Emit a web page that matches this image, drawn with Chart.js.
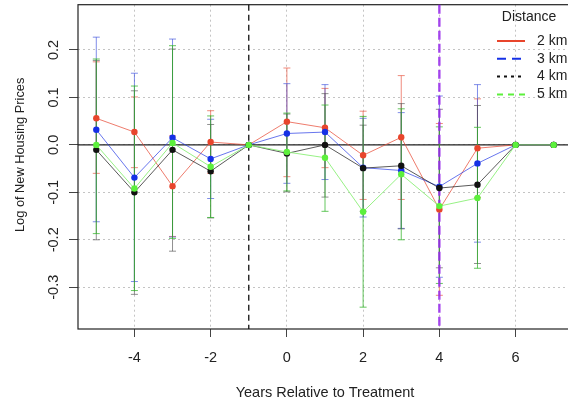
<!DOCTYPE html>
<html>
<head>
<meta charset="utf-8">
<script src="https://cdn.jsdelivr.net/npm/chart.js@4.4.1/dist/chart.umd.min.js"></script>
<style>
  html, body { margin: 0; padding: 0; overflow: hidden; background: #fff; width: 568px; height: 406px; }
  #wrap { width: 576px; height: 406px; }
</style>
</head>
<body>
<div id="wrap"><canvas id="c" width="576" height="406"></canvas></div>
<script>
// Event-study estimates by distance band, with confidence bounds
const years = [-5, -4, -3, -2, -1, 0, 1, 2, 3, 4, 5, 6, 7];
const seriesNames = ['2 km', '3 km', '4 km', '5 km'];

const est2km = [0.056, 0.027, -0.087, 0.006, 0, 0.049, 0.036, -0.022, 0.016, -0.136, -0.007, 0, 0];
const hi2km  = [0.175, 0.101, 0.019, 0.072, 0, 0.162, 0.119, 0.071, 0.146, 0.045, 0.097, 0, 0];
const lo2km  = [-0.060, -0.048, -0.193, -0.060, 0, -0.067, -0.048, -0.115, -0.115, -0.317, -0.111, 0, 0];

const est3km = [0.032, -0.069, 0.015, -0.0295, 0, 0.024, 0.027, -0.048, -0.054, -0.088, -0.039, 0, 0];
const hi3km  = [0.227, 0.151, 0.223, 0.054, 0, 0.129, 0.127, 0.056, 0.068, 0.103, 0.127, 0, 0];
const lo3km  = [-0.162, -0.288, -0.194, -0.113, 0, -0.081, -0.073, -0.152, -0.176, -0.279, -0.205, 0, 0];

const est4km = [-0.0105, -0.100, -0.0105, -0.0555, 0, -0.018, 0, -0.049, -0.044, -0.091, -0.084, 0, 0];
const hi4km  = [0.178, 0.114, 0.202, 0.043, 0, 0.065, 0.108, 0.0415, 0.087, 0.075, 0.083, 0, 0];
const lo4km  = [-0.200, -0.315, -0.224, -0.154, 0, -0.099, -0.110, -0.140, -0.177, -0.259, -0.250, 0, 0];

const est5km = [0.0, -0.092, 0.004, -0.046, 0, -0.015, -0.027, -0.141, -0.062, -0.129, -0.112, 0, 0];
const hi5km  = [0.181, 0.124, 0.209, 0.061, 0, 0.067, 0.084, 0.060, 0.076, 0.038, 0.037, 0, 0];
const lo5km  = [-0.187, -0.307, -0.197, -0.153, 0, -0.097, -0.140, -0.342, -0.200, -0.292, -0.260, 0, 0];

const xTickValues = [-4, -2, 0, 2, 4, 6];
const yTickValues = [-0.3, -0.2, -0.1, 0.0, 0.1, 0.2];
const treatmentYear = -1;
const markerYear = 4;

// Styling per series
const pointColors = ['#e8452c', '#1530e6', '#111111', '#5cf03c'];
const lineColors  = ['rgba(232,80,60,0.75)', 'rgba(40,60,230,0.7)', 'rgba(20,20,20,0.7)', 'rgba(140,240,120,0.9)'];
const barColors   = ['rgba(232,90,70,0.7)', 'rgba(60,80,220,0.65)', 'rgba(70,70,70,0.6)', 'rgba(50,180,40,0.75)'];
const legendDash  = [[], [9, 6], [3, 4], [6, 5]];

const estimates = [est2km, est3km, est4km, est5km];
const uppers = [hi2km, hi3km, hi4km, hi5km];
const lowers = [lo2km, lo3km, lo4km, lo5km];

const FONT = "'Liberation Sans', Arial, Helvetica, sans-serif";

const datasets = seriesNames.map((name, s) => ({
  label: name,
  data: years.map((x, i) => ({ x: x, y: estimates[s][i] })),
  borderColor: lineColors[s],
  backgroundColor: pointColors[s],
  pointBackgroundColor: pointColors[s],
  pointBorderWidth: 0,
  pointRadius: 3.2,
  borderWidth: 1,
  tension: 0,
  fill: false,
  order: seriesNames.length - s
}));

const decorations = {
  id: 'decorations',
  beforeDatasetsDraw(chart) {
    const { ctx, chartArea: a, scales: { x, y } } = chart;
    ctx.save();
    // frame
    ctx.strokeStyle = '#222';
    ctx.lineWidth = 1.2;
    ctx.setLineDash([]);
    ctx.strokeRect(a.left, a.top, a.right - a.left, a.bottom - a.top);

    // zero reference line
    const y0 = y.getPixelForValue(0);
    ctx.strokeStyle = '#222';
    ctx.lineWidth = 1.3;
    ctx.beginPath(); ctx.moveTo(a.left, y0); ctx.lineTo(a.right, y0); ctx.stroke();

    // confidence intervals
    ctx.lineWidth = 1;
    for (let s = 0; s < seriesNames.length; s++) {
      ctx.strokeStyle = barColors[s];
      for (let i = 0; i < years.length; i++) {
        if (uppers[s][i] === lowers[s][i]) continue;
        const px = x.getPixelForValue(years[i]);
        const pt = y.getPixelForValue(uppers[s][i]);
        const pb = y.getPixelForValue(lowers[s][i]);
        ctx.beginPath();
        ctx.moveTo(px, pt); ctx.lineTo(px, pb);
        ctx.moveTo(px - 3.5, pt); ctx.lineTo(px + 3.5, pt);
        ctx.moveTo(px - 3.5, pb); ctx.lineTo(px + 3.5, pb);
        ctx.stroke();
      }
    }

    // treatment year
    const xt = x.getPixelForValue(treatmentYear);
    ctx.strokeStyle = '#111';
    ctx.lineWidth = 1.3;
    ctx.setLineDash([6, 4]);
    ctx.beginPath(); ctx.moveTo(xt, a.top); ctx.lineTo(xt, a.bottom); ctx.stroke();

    // later marker
    const xm = x.getPixelForValue(markerYear);
    ctx.strokeStyle = 'rgba(150,40,235,0.85)';
    ctx.lineWidth = 2.4;
    ctx.setLineDash([9, 4]);
    ctx.beginPath(); ctx.moveTo(xm, a.top); ctx.lineTo(xm, a.bottom); ctx.stroke();
    ctx.restore();
  },
  afterDraw(chart) {
    const { ctx, chartArea: a, scales: { y } } = chart;
    ctx.save();
    // y tick labels, rotated
    ctx.fillStyle = '#222';
    ctx.font = '14.5px ' + FONT;
    ctx.textAlign = 'center';
    ctx.textBaseline = 'middle';
    const lx = y.left + 54;
    yTickValues.forEach(v => {
      const py = y.getPixelForValue(v);
      ctx.save();
      ctx.translate(lx, py);
      ctx.rotate(-Math.PI / 2);
      ctx.fillText(v.toFixed(1), 0, 0);
      ctx.restore();
    });
    // y axis title
    ctx.save();
    ctx.translate(y.left + 20, (a.top + a.bottom) / 2 - 12);
    ctx.rotate(-Math.PI / 2);
    ctx.font = '12.8px ' + FONT;
    ctx.fillText('Log of New Housing Prices', 0, 0);
    ctx.restore();

    // legend
    ctx.font = '14px ' + FONT;
    ctx.textAlign = 'center';
    ctx.fillText('Distance', 529, 17);
    ctx.textAlign = 'left';
    seriesNames.forEach((name, s) => {
      const ry = 41 + s * 17.8;
      ctx.strokeStyle = pointColors[s];
      ctx.lineWidth = 2;
      ctx.setLineDash(legendDash[s]);
      ctx.beginPath(); ctx.moveTo(497, ry); ctx.lineTo(525, ry); ctx.stroke();
      ctx.setLineDash([]);
      ctx.fillStyle = '#222';
      ctx.fillText(name, 537, ry);
    });
    ctx.restore();
  }
};

new Chart(document.getElementById('c'), {
  type: 'line',
  data: { datasets: datasets },
  options: {
    responsive: false,
    animation: false,
    devicePixelRatio: 1,
    layout: { padding: { top: 4.7, left: 0, right: 1, bottom: 0 } },
    plugins: { legend: { display: false }, tooltip: { enabled: false } },
    scales: {
      x: {
        type: 'linear',
        min: -5.48,
        max: 7.48,
        afterBuildTicks: s => { s.ticks = xTickValues.map(v => ({ value: v })); },
        afterFit: s => { s.height = 77; },
        border: { display: false, dash: [2, 3] },
        grid: {
          color: '#c4c4c4', lineWidth: 1,
          tickColor: '#444', tickLength: 8, tickBorderDash: [], tickWidth: 1
        },
        ticks: {
          color: '#222', font: { family: FONT, size: 14.5 }, padding: 12,
          maxRotation: 0, autoSkip: false,
          callback: v => String(v)
        },
        title: {
          display: true, text: 'Years Relative to Treatment', color: '#222',
          font: { family: FONT, size: 14.5 }, padding: { top: 0, bottom: 4 }
        }
      },
      y: {
        type: 'linear',
        min: -0.388,
        max: 0.2954,
        afterBuildTicks: s => { s.ticks = yTickValues.map(v => ({ value: v })); },
        afterFit: s => { s.width = 78; },
        border: { display: false, dash: [2, 3] },
        grid: {
          color: '#c4c4c4', lineWidth: 1,
          tickColor: '#444', tickLength: 9, tickBorderDash: [], tickWidth: 1
        },
        ticks: { display: false }
      }
    }
  },
  plugins: [decorations]
});
</script>
</body>
</html>
